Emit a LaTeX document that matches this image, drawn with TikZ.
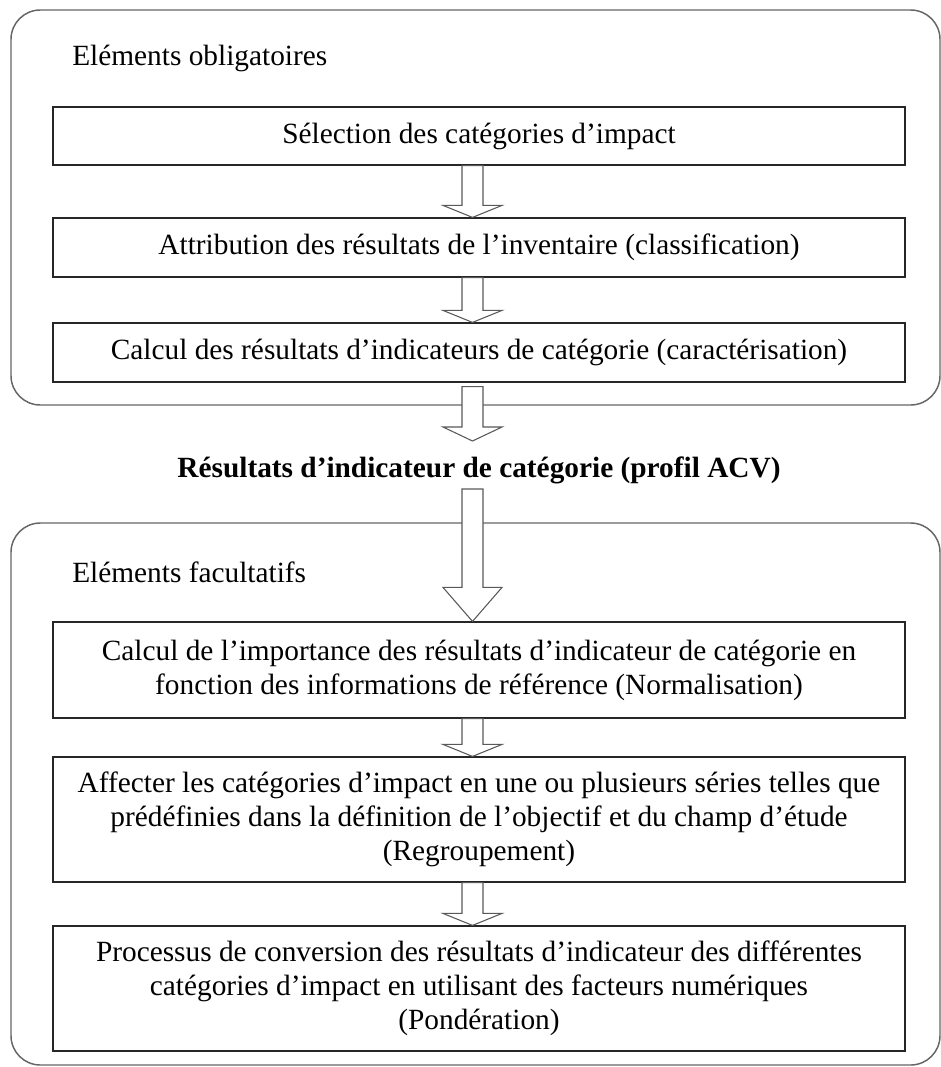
\documentclass[tikz,border=0pt]{standalone}
\usepackage{fontspec}
\setmainfont{Liberation Serif}
\usetikzlibrary{calc}

\tikzset{
  panel/.style={draw=black!60, line width=1.1pt, rounded corners=22pt},
  stepbox/.style={draw=black!85, line width=0.9pt, fill=white, inner sep=0pt,
    minimum width=639pt, align=center},
  hollow/.style={draw=black!65, line width=0.8pt, fill=white, line join=miter},
  label/.style={inner sep=0pt},
}

% hollow block arrow from #1 down to #2, head length #3
\newcommand{\blockarrow}[3]{%
  \draw[hollow] ($(ax |- #1)+(-10.5,0)$) -- ($(ax |- #2)+(-10.5,-#3)$)
    -- ($(ax |- #2)+(-29.5,-#3)$) -- (ax |- #2) -- ($(ax |- #2)+(29.5,-#3)$)
    -- ($(ax |- #2)+(10.5,-#3)$) -- ($(ax |- #1)+(10.5,0)$) -- cycle;}

\begin{document}
\begin{tikzpicture}[x=0.75pt,y=0.75pt,yscale=-1,
    font=\fontsize{22}{25.5}\selectfont]
  \useasboundingbox (0,0) rectangle (941,1067);
  \coordinate (ax) at (472.5,0);

  %Rounded panels
  \draw[panel] (11,10) rectangle (940,405);
  \draw[panel] (11,523) rectangle (940,1065);

  %Panel titles
  \draw (72,65) node [label, anchor=base west] (tob) {Eléments obligatoires};
  \draw (72,582) node [label, anchor=base west] (tfac) {Eléments facultatifs};

  %Boxes of the mandatory part
  \draw (479,136) node [stepbox, minimum height=43.5pt] (sel) {Sélection des catégories d’impact};
  \draw (479,247.5) node [stepbox, minimum height=44.25pt] (attr) {Attribution des résultats de l’inventaire (classification)};
  \draw (479,352.5) node [stepbox, minimum height=44.25pt] (car) {Calcul des résultats d’indicateurs de catégorie (caractérisation)};

  %Result line
  \draw (479,477) node [label, anchor=base] (res) {\bfseries Résultats d’indicateur de catégorie (profil ACV)};

  %Boxes of the optional part
  \draw (479,670) node [stepbox, minimum height=72pt] (norm) {Calcul de l’importance des résultats d’indicateur de catégorie en\\fonction des informations de référence (Normalisation)};
  \draw (479,819.5) node [stepbox, minimum height=93.75pt] (regr) {Affecter les catégories d’impact en une ou plusieurs séries telles que\\prédéfinies dans la définition de l’objectif et du champ d’étude\\(Regroupement)};
  \draw (479,988.5) node [stepbox, minimum height=93.75pt] (pond) {Processus de conversion des résultats d’indicateur des différentes\\catégories d’impact en utilisant des facteurs numériques\\(Pondération)};

  %Arrow ends around the result line
  \coordinate (carout) at ($(car.south)+(0,4)$);
  \coordinate (resin) at (479,441);
  \coordinate (resout) at (479,489);

  %Hollow arrows
  \blockarrow{sel.south}{attr.north}{12}
  \blockarrow{attr.south}{car.north}{12}
  \blockarrow{carout}{resin}{14}
  \blockarrow{resout}{norm.north}{34}
  \blockarrow{norm.south}{regr.north}{12}
  \blockarrow{regr.south}{pond.north}{12}
\end{tikzpicture}
\end{document}
